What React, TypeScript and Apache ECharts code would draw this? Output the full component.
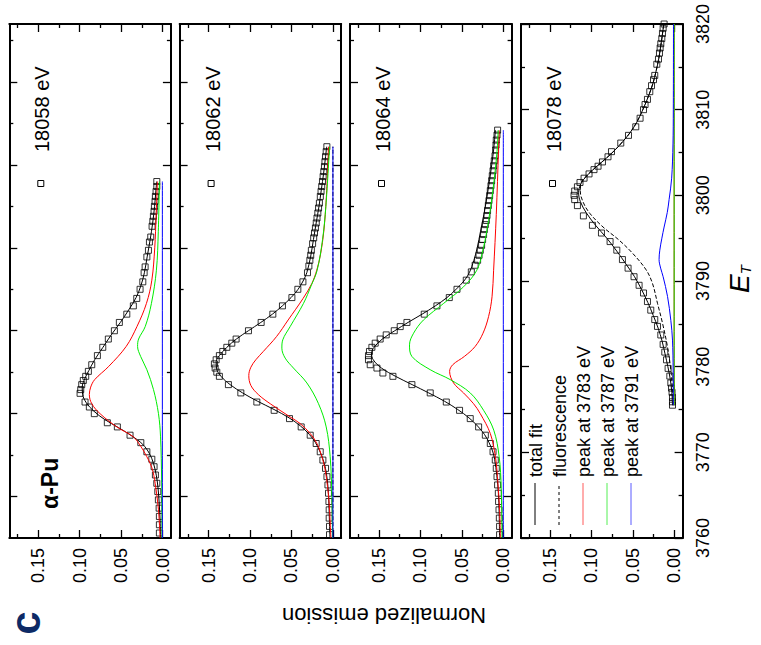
import React, { useEffect, useRef } from 'react';
import * as echarts from 'echarts';

const FONT = '"Liberation Sans", Arial, Helvetica, sans-serif';

// ---------- labels ----------
const incidentEnergies = ['18058 eV', '18062 eV', '18064 eV', '18078 eV'];
const legendNames = ['total fit', 'fluorescence', 'peak at 3783 eV', 'peak at 3787 eV', 'peak at 3791 eV'];
const sampleName = '\u03b1-Pu';
const valueAxisTitle = 'Normalized emission';
const panelLetter = 'c';

// ---------- axis ticks ----------
const emissionRange = [-0.01, 0.185];
const emissionTicks = [0, 0.05, 0.1, 0.15];
const emissionMinorTicks = [0.025, 0.075, 0.125, 0.175];
const energyRangeUpper = [3755, 3817]; // first three panels
const energyRangeLower = [3760, 3820]; // bottom panel (labelled)
const energyTicks = [3760, 3770, 3780, 3790, 3800, 3810, 3820];
const energyMinorTicks = [3765, 3775, 3785, 3795, 3805, 3815];

// ---------- data: [energy (eV), normalized emission] ----------
const p1Data = [
  [3755.6, 0.0039], [3756.6, 0.0039], [3757.6, 0.0039], [3758.6, 0.0042], [3759.6, 0.0051], [3760.6, 0.0058],
  [3761.6, 0.007], [3762.6, 0.0087], [3763.6, 0.0103], [3764.5, 0.013], [3765.4, 0.019], [3766.5, 0.0263],
  [3767.4, 0.0393], [3768.4, 0.0546], [3768.9, 0.0667], [3770.0, 0.0824], [3770.8, 0.0884], [3771.4, 0.0936],
  [3772.45, 0.0996], [3772.9, 0.0988], [3773.5, 0.0976], [3774.0, 0.0957], [3774.5, 0.0928], [3775.1, 0.0896],
  [3775.9, 0.0855], [3777.0, 0.0787], [3778.0, 0.0722], [3779.0, 0.0655], [3780.0, 0.0582], [3781.0, 0.0522],
  [3782.0, 0.0432], [3783.0, 0.0353], [3783.9, 0.0312], [3785.0, 0.0272], [3785.9, 0.0239], [3787.0, 0.0223],
  [3787.7, 0.0211], [3788.9, 0.019], [3789.7, 0.0171], [3790.7, 0.0159], [3791.3, 0.0143], [3792.6, 0.0127],
  [3793.2, 0.0118], [3793.8, 0.0111], [3794.4, 0.0103], [3795.0, 0.0099], [3795.6, 0.0091], [3796.2, 0.0087],
  [3796.8, 0.0079], [3797.4, 0.007], [3798.0, 0.007],
];
const p1Fit = [
  [3755, 0.0025], [3757, 0.003], [3759, 0.004], [3761, 0.0055], [3762.5, 0.0075], [3764, 0.011], [3765.2, 0.016],
  [3766.3, 0.024], [3767.3, 0.037], [3768.3, 0.053], [3769.3, 0.07], [3770.3, 0.083], [3771.3, 0.092],
  [3772.3, 0.0965], [3773.2, 0.097], [3774.2, 0.094], [3775.2, 0.089], [3776.5, 0.082], [3778, 0.072],
  [3779.5, 0.062], [3781, 0.051], [3782.5, 0.041], [3784, 0.032], [3785.5, 0.026], [3787, 0.022], [3789, 0.0185],
  [3791, 0.015], [3793, 0.012], [3795, 0.0097], [3797, 0.008], [3798, 0.0072],
];
const p1Peak3783 = [
  [3755, 0.003], [3758.4, 0.005], [3761.6, 0.009], [3763.5, 0.013], [3764.8, 0.019], [3766, 0.026],
  [3767.2, 0.0353], [3768.4, 0.0553], [3770, 0.0755], [3771.2, 0.0855], [3772.3, 0.0884], [3773.2, 0.0868],
  [3774.1, 0.082], [3775.7, 0.065], [3778.1, 0.044], [3780.5, 0.031], [3783.3, 0.0195], [3786.1, 0.013],
  [3790, 0.0095], [3794, 0.0078], [3798, 0.0063],
];
const p1Peak3787 = [
  [3755, 0.0007], [3762, 0.0012], [3767.2, 0.0025], [3770, 0.005], [3772.9, 0.011], [3775.3, 0.019],
  [3776.9, 0.0265], [3778.1, 0.0302], [3779, 0.029], [3780.5, 0.021], [3783.3, 0.0135], [3787.3, 0.0075],
  [3792, 0.0052], [3798, 0.0039],
];
const p1Peak3791 = [[3755, 0.0003], [3798, 0.0003]];

const p2Data = [
  [3755.4, 0.0041], [3756.4, 0.0041], [3757.4, 0.0045], [3758.4, 0.0045], [3759.4, 0.0048], [3760.4, 0.0053],
  [3761.4, 0.006], [3762.4, 0.0072], [3763.4, 0.0089], [3764.4, 0.0121], [3765.4, 0.0153], [3766.4, 0.0202],
  [3767.4, 0.0274], [3768.4, 0.0383], [3769.4, 0.0524], [3770.4, 0.0709], [3771.4, 0.0918], [3772.5, 0.1111],
  [3773.5, 0.1261], [3774.5, 0.137], [3775.0, 0.1401], [3775.5, 0.1421], [3776.0, 0.143], [3776.5, 0.1409],
  [3777.0, 0.137], [3777.5, 0.1329], [3778.0, 0.128], [3778.5, 0.122], [3779.0, 0.1168], [3780.0, 0.1019],
  [3781.0, 0.0866], [3782.0, 0.0725], [3783.0, 0.0609], [3784.0, 0.0495], [3785.0, 0.0423], [3785.9, 0.0362],
  [3787.0, 0.0307], [3787.8, 0.029], [3788.5, 0.0278], [3789.1, 0.0268], [3789.7, 0.026], [3790.5, 0.0245],
  [3791.2, 0.0232], [3791.8, 0.0222], [3792.4, 0.0211], [3793.0, 0.0201], [3793.6, 0.0192], [3794.2, 0.0182],
  [3794.8, 0.0173], [3795.4, 0.0163], [3796.2, 0.0152], [3796.8, 0.0143], [3797.4, 0.0135], [3798.0, 0.0126],
  [3798.6, 0.0118], [3799.2, 0.011], [3799.8, 0.0102], [3800.4, 0.0096], [3801.0, 0.0089], [3801.6, 0.0081],
  [3802.2, 0.0073],
];
const p2Fit = [
  [3755, 0.0035], [3757, 0.0042], [3759, 0.0048], [3760.5, 0.0055], [3762, 0.0068], [3763.4, 0.009],
  [3764.5, 0.012], [3765.5, 0.016], [3766.5, 0.021], [3767.5, 0.0285], [3768.5, 0.039], [3769.5, 0.053],
  [3770.5, 0.071], [3771.5, 0.091], [3772.5, 0.109], [3773.5, 0.124], [3774.5, 0.135], [3775.5, 0.1405],
  [3776.3, 0.1408], [3777, 0.137], [3778, 0.128], [3779, 0.1165], [3780, 0.102], [3781, 0.087], [3782, 0.073],
  [3783, 0.061], [3784, 0.0505], [3785, 0.042], [3786, 0.036], [3787, 0.0315], [3789, 0.0268], [3791, 0.0235],
  [3793, 0.0202], [3795, 0.0168], [3797, 0.014], [3799, 0.0112], [3801, 0.0089], [3802.2, 0.0075],
];
const p2Fluorescence = [[3755, 0], [3802.2, 0]];
const p2Peak3783 = [
  [3755, 0.0024], [3756.8, 0.0033], [3759.2, 0.0045], [3761.2, 0.0065], [3763.2, 0.0093], [3764.8, 0.0133],
  [3766.4, 0.0193], [3767.6, 0.0274], [3768.8, 0.0395], [3769.6, 0.0516], [3771.2, 0.0757], [3772.3, 0.09],
  [3773.4, 0.099], [3774.6, 0.1015], [3775.6, 0.099], [3776.5, 0.093], [3777.5, 0.084], [3779.3, 0.068],
  [3781.3, 0.054], [3783.9, 0.036], [3785.7, 0.0254], [3787.3, 0.0195], [3789.3, 0.0148], [3792, 0.011],
  [3796, 0.008], [3802.2, 0.0053],
];
const p2Peak3787 = [
  [3755, 0.0005], [3760, 0.0012], [3764.8, 0.0033], [3768.4, 0.0081], [3771.2, 0.0174], [3773.7, 0.0314],
  [3775.5, 0.0476], [3776.7, 0.0576], [3777.9, 0.0616], [3778.9, 0.0605], [3780.5, 0.0516], [3783.3, 0.0355],
  [3785.5, 0.026], [3787.3, 0.019], [3791, 0.0125], [3795, 0.0085], [3802.2, 0.004],
];
const p2Peak3791 = [[3755, 0], [3802.2, 0]];

const p3Data = [
  [3755.4, 0.0045], [3756.4, 0.0045], [3757.4, 0.0048], [3758.4, 0.0052], [3759.4, 0.0057], [3760.4, 0.006],
  [3761.4, 0.0069], [3762.4, 0.0076], [3763.4, 0.0085], [3764.4, 0.0097], [3765.4, 0.0124], [3766.4, 0.0157],
  [3767.4, 0.0217], [3768.4, 0.0298], [3769.4, 0.0399], [3770.4, 0.0528], [3771.4, 0.0688], [3772.5, 0.0882],
  [3773.5, 0.1103], [3774.5, 0.1332], [3774.9, 0.1453], [3775.5, 0.1525], [3775.9, 0.1606], [3776.5, 0.1627],
  [3777.0, 0.1627], [3777.5, 0.1615], [3778.0, 0.1586], [3778.5, 0.1546], [3779.0, 0.1486], [3779.5, 0.1413],
  [3780.0, 0.1316], [3780.5, 0.1244], [3781.0, 0.1163], [3782.0, 0.0954], [3783.0, 0.0801], [3784.0, 0.0652],
  [3785.0, 0.0559], [3786.1, 0.0447], [3787.1, 0.0386], [3787.9, 0.034], [3788.5, 0.031], [3789.1, 0.0293],
  [3789.7, 0.0278], [3790.3, 0.0262], [3791.0, 0.025], [3791.6, 0.0238], [3792.2, 0.0229], [3792.8, 0.0217],
  [3793.3, 0.0205], [3793.9, 0.0197], [3794.5, 0.019], [3795.1, 0.0181], [3795.7, 0.0173], [3796.3, 0.0165],
  [3796.9, 0.0157], [3797.5, 0.0149], [3798.1, 0.0141], [3798.7, 0.0133], [3799.3, 0.0124], [3799.9, 0.0117],
  [3800.5, 0.0109], [3801.1, 0.01], [3801.8, 0.0093], [3802.4, 0.0088], [3803.0, 0.0085], [3803.6, 0.0076],
  [3804.2, 0.0069],
];
const p3Fit = [
  [3755, 0.0045], [3758, 0.005], [3760.5, 0.006], [3762.5, 0.0078], [3764.5, 0.0105], [3765.5, 0.013],
  [3766.5, 0.0172], [3767.5, 0.0228], [3768.5, 0.031], [3769.5, 0.0415], [3770.5, 0.055], [3771.5, 0.071],
  [3772.5, 0.09], [3773.5, 0.11], [3774.5, 0.13], [3775.5, 0.147], [3776.5, 0.157], [3777.3, 0.159],
  [3778, 0.156], [3779, 0.146], [3780, 0.131], [3781, 0.115], [3782, 0.098], [3783, 0.082], [3784, 0.068],
  [3785, 0.057], [3786, 0.0475], [3787, 0.041], [3788.5, 0.0355], [3790, 0.0315], [3792, 0.0275],
  [3794, 0.0235], [3796, 0.02], [3798, 0.0168], [3800, 0.014], [3802, 0.0115], [3804.2, 0.0095],
];
const p3Peak3783 = [
  [3755, 0.0035], [3758.4, 0.0045], [3761.6, 0.0065], [3764.8, 0.0095], [3767.6, 0.0157], [3770, 0.0278],
  [3771.2, 0.0359], [3772.5, 0.048], [3773.7, 0.06], [3775.1, 0.0648], [3775.9, 0.061], [3776.9, 0.047],
  [3778.1, 0.034], [3779.7, 0.0245], [3781.7, 0.0178], [3784.1, 0.0136], [3787.3, 0.0117], [3794, 0.0085],
  [3802, 0.0057], [3804.2, 0.005],
];
const p3Peak3787 = [
  [3755, 0.0016], [3761, 0.0025], [3764.8, 0.005], [3768, 0.0115], [3770.4, 0.0238], [3772.5, 0.0399],
  [3774.1, 0.064], [3775.3, 0.0882], [3776.9, 0.1103], [3778.3, 0.1132], [3779.7, 0.1083], [3781.3, 0.0963],
  [3783.3, 0.072], [3785.3, 0.048], [3787.3, 0.032], [3790, 0.024], [3793.3, 0.0178], [3797, 0.0125],
  [3801.6, 0.0076], [3804.2, 0.0062],
];
const p3Peak3791 = [[3755, 0], [3804.2, 0]];

const p4Data = [
  [3775.5, 0.0022], [3775.9, 0.0022], [3776.4, 0.0022], [3777.0, 0.0027], [3777.5, 0.0034], [3778.1, 0.0042],
  [3778.9, 0.0054], [3779.8, 0.0075], [3780.8, 0.0094], [3781.7, 0.0115], [3782.6, 0.0135], [3783.7, 0.0163],
  [3784.7, 0.0203], [3785.5, 0.0236], [3786.6, 0.0284], [3787.6, 0.0324], [3788.6, 0.0372], [3789.5, 0.0425],
  [3790.5, 0.0486], [3791.5, 0.0558], [3792.5, 0.0626], [3793.6, 0.0694], [3794.6, 0.0775], [3795.6, 0.0879],
  [3796.5, 0.0988], [3797.6, 0.1097], [3798.8, 0.1169], [3799.5, 0.1202], [3800.0, 0.121], [3800.5, 0.1202],
  [3801.0, 0.1169], [3801.5, 0.1138], [3802.0, 0.1089], [3802.5, 0.1029], [3803.0, 0.0969], [3803.4, 0.092],
  [3803.9, 0.0867], [3804.5, 0.08], [3805.1, 0.0758], [3806.1, 0.0646], [3807.0, 0.0553], [3808.0, 0.0465],
  [3809.0, 0.0413], [3810.0, 0.0372], [3810.6, 0.0353], [3811.2, 0.0324], [3812.1, 0.0296], [3812.8, 0.0275],
  [3813.5, 0.0251], [3814.0, 0.0236], [3815.3, 0.0211], [3815.9, 0.0191], [3816.6, 0.0179], [3817.2, 0.0171],
  [3817.7, 0.0163], [3818.3, 0.0151], [3818.9, 0.0143], [3819.5, 0.0135], [3820.0, 0.0123],
];
const p4Fit = [
  [3775.5, 0.0022], [3777, 0.003], [3778.5, 0.0048], [3780, 0.0078], [3781.5, 0.0112], [3783, 0.0148],
  [3784.5, 0.0195], [3786, 0.0255], [3787.5, 0.032], [3789, 0.0395], [3790.5, 0.048], [3792, 0.0585],
  [3793.5, 0.0695], [3795, 0.0815], [3796.5, 0.095], [3798, 0.1065], [3799.3, 0.1135], [3800.3, 0.1155],
  [3801.3, 0.113], [3802.3, 0.1055], [3803.3, 0.0945], [3804.3, 0.0825], [3805.3, 0.0715], [3806.3, 0.062],
  [3807.3, 0.0535], [3808.5, 0.0455], [3810, 0.038], [3811.5, 0.0315], [3813, 0.026], [3814.5, 0.022],
  [3816, 0.0187], [3818, 0.0155], [3820, 0.0127],
];
const p4Fluorescence = [
  [3775.5, 0.0015], [3777, 0.002], [3779.6, 0.0042], [3782.3, 0.0082], [3785.1, 0.0143], [3787.4, 0.0203],
  [3789.7, 0.0263], [3791.3, 0.034], [3793.2, 0.05], [3794.8, 0.067], [3796.3, 0.086], [3797.9, 0.102],
  [3799.2, 0.11], [3800.5, 0.1135], [3801.3, 0.113], [3802.3, 0.1055], [3803.3, 0.0945], [3804.3, 0.0825],
  [3805.3, 0.0715], [3806.3, 0.062], [3807.3, 0.0535], [3808.5, 0.0455], [3810, 0.038], [3811.5, 0.0315],
  [3813, 0.026], [3814.5, 0.022], [3816, 0.0187], [3818, 0.0155], [3820, 0.0127],
];
const p4Peak3783 = [[3775.5, 0.0002], [3820, 0.0002]];
const p4Peak3787 = [[3775.5, 0.0002], [3820, 0.0002]];
const p4Peak3791 = [
  [3775.5, 0.0012], [3779.6, 0.0014], [3783.1, 0.0022], [3785.4, 0.0042], [3788.2, 0.0082], [3790.5, 0.0135],
  [3791.5, 0.0165], [3792.5, 0.0184], [3793.6, 0.0175], [3795, 0.015], [3796.3, 0.0123], [3798, 0.0085],
  [3799.5, 0.0063], [3802, 0.0032], [3806, 0.0016], [3810, 0.0012], [3820, 0.001],
];

// ---------- layout ----------
const PANEL_LEFT = [9.3, 179.6, 350, 521];
const PANEL_WIDTH = 161.6;
const PLOT_TOP = 24;
const PLOT_HEIGHT = 514;

const panels = [
  { data: p1Data, fit: p1Fit, fluor: null, p3783: p1Peak3783, p3787: p1Peak3787, p3791: p1Peak3791, range: energyRangeUpper },
  { data: p2Data, fit: p2Fit, fluor: p2Fluorescence, p3783: p2Peak3783, p3787: p2Peak3787, p3791: p2Peak3791, range: energyRangeUpper },
  { data: p3Data, fit: p3Fit, fluor: null, p3783: p3Peak3783, p3787: p3Peak3787, p3791: p3Peak3791, range: energyRangeUpper },
  { data: p4Data, fit: p4Fit, fluor: p4Fluorescence, p3783: p4Peak3783, p3787: p4Peak3787, p3791: p4Peak3791, range: energyRangeLower },
];

const COLORS = { fit: '#000000', fluor: '#000000', p3783: '#ff0000', p3787: '#00ee00', p3791: '#0000ff' };

// emission goes on the horizontal axis, energy on the vertical one
const toXY = (pts: number[][]) => pts.map(([e, v]) => [v, e]);

function emissionAxis(gridIndex: number, position: string, ticks: number[], len: number, line: boolean, labels: boolean) {
  return {
    type: 'value', gridIndex, position, min: emissionRange[0], max: emissionRange[1], inverse: true,
    axisLine: { show: line, onZero: false, lineStyle: { color: '#000', width: 2 } },
    axisTick: { show: true, inside: true, length: len, customValues: ticks, lineStyle: { color: '#000', width: 1.3 } },
    axisLabel: labels
      ? { show: true, rotate: 90, customValues: emissionTicks, formatter: (v: number) => v.toFixed(2), fontSize: 18, fontFamily: FONT, color: '#000', margin: 10 }
      : { show: false },
    splitLine: { show: false },
  };
}

function energyAxis(gridIndex: number, position: string, range: number[], ticks: number[], len: number, line: boolean, labels: boolean) {
  return {
    type: 'value', gridIndex, position, min: range[0], max: range[1],
    axisLine: { show: line, onZero: false, lineStyle: { color: '#000', width: 2 } },
    axisTick: { show: true, inside: true, length: len, customValues: ticks, lineStyle: { color: '#000', width: 1.3 } },
    axisLabel: labels
      ? { show: true, rotate: 90, customValues: energyTicks, formatter: (v: number) => String(v), fontSize: 18, fontFamily: FONT, color: '#000', margin: 11 }
      : { show: false },
    splitLine: { show: false },
  };
}

function buildOption() {
  const grid: any[] = [];
  const xAxis: any[] = [];
  const yAxis: any[] = [];
  const series: any[] = [];
  const graphic: any[] = [];

  panels.forEach((p, i) => {
    const left = PANEL_LEFT[i];
    grid.push({ left, top: PLOT_TOP, width: PANEL_WIDTH, height: PLOT_HEIGHT });
    xAxis.push(emissionAxis(i, 'bottom', emissionTicks, 8, true, true));
    xAxis.push(emissionAxis(i, 'bottom', emissionMinorTicks, 4, false, false));
    xAxis.push(emissionAxis(i, 'top', emissionTicks, 8, true, false));
    xAxis.push(emissionAxis(i, 'top', emissionMinorTicks, 4, false, false));
    const lastPanel = i === panels.length - 1;
    yAxis.push(energyAxis(i, 'right', p.range, energyTicks, 8, true, lastPanel));
    yAxis.push(energyAxis(i, 'right', p.range, energyMinorTicks, 4, false, false));
    yAxis.push(energyAxis(i, 'left', p.range, energyTicks, 8, true, false));
    yAxis.push(energyAxis(i, 'left', p.range, energyMinorTicks, 4, false, false));

    const axes = { xAxisIndex: i * 4, yAxisIndex: i * 4 };
    const lineSeries = (name: string, pts: number[][], color: string, type = 'solid') => ({
      name, type: 'line', ...axes, data: toXY(pts), showSymbol: false, smooth: 0.35, clip: true,
      lineStyle: { color, width: 1, type }, silent: true,
    });
    series.push(lineSeries(legendNames[0], p.fit, COLORS.fit));
    if (p.fluor) series.push(lineSeries(legendNames[1], p.fluor, COLORS.fluor, 'dashed'));
    series.push(lineSeries(legendNames[2], p.p3783, COLORS.p3783));
    series.push(lineSeries(legendNames[3], p.p3787, COLORS.p3787));
    series.push(lineSeries(legendNames[4], p.p3791, COLORS.p3791));
    series.push({
      name: incidentEnergies[i], type: 'scatter', ...axes, data: toXY(p.data), symbol: 'rect', symbolSize: 6,
      itemStyle: { color: 'rgba(0,0,0,0)', borderColor: '#000', borderWidth: 1 }, silent: true,
    });

    // incident-energy key: open square plus rotated label
    graphic.push({
      type: 'rect', shape: { x: left + 28.5, y: 180.5, width: 6, height: 6 },
      style: { fill: 'none', stroke: '#000', lineWidth: 1 },
    });
    graphic.push({
      type: 'text', x: left + 33, y: 152, rotation: Math.PI / 2,
      style: { text: incidentEnergies[i], fontSize: 20, fontFamily: FONT, fill: '#000', align: 'left', verticalAlign: 'middle' },
    });
  });

  // sample name in the first panel
  graphic.push({
    type: 'text', x: PANEL_LEFT[0] + 41, y: 509, rotation: Math.PI / 2,
    style: { text: sampleName, fontSize: 23, fontWeight: 'bold', fontFamily: FONT, fill: '#000', align: 'left', verticalAlign: 'middle' },
  });

  // legend of the last panel
  const legendStyles = [
    { stroke: '#000', lineDash: null },
    { stroke: '#000', lineDash: [3, 3] },
    { stroke: '#ff5a5a', lineDash: null },
    { stroke: '#55ee55', lineDash: null },
    { stroke: '#5a5aff', lineDash: null },
  ];
  legendNames.forEach((name, k) => {
    const lx = PANEL_LEFT[3] + 14 + k * 24;
    graphic.push({
      type: 'line', shape: { x1: lx, y1: 525, x2: lx, y2: 483 },
      style: { stroke: legendStyles[k].stroke, lineWidth: 1, lineDash: legendStyles[k].lineDash },
    });
    graphic.push({
      type: 'text', x: lx + 1, y: 477, rotation: Math.PI / 2,
      style: { text: name, fontSize: 18, fontFamily: FONT, fill: '#000', align: 'left', verticalAlign: 'middle' },
    });
  });

  // axis titles
  graphic.push({
    type: 'text', x: 384, y: 615, rotation: Math.PI,
    style: { text: valueAxisTitle, fontSize: 22, fontFamily: FONT, fill: '#000', align: 'center', verticalAlign: 'middle' },
  });
  graphic.push({
    type: 'text', x: 739, y: 279, rotation: Math.PI / 2,
    style: {
      text: '{e|E}{t|T}', align: 'center', verticalAlign: 'middle',
      rich: {
        e: { fontSize: 28, fontStyle: 'italic', fontFamily: FONT, fill: '#000', verticalAlign: 'bottom' },
        t: { fontSize: 15, fontStyle: 'italic', fontFamily: FONT, fill: '#000', verticalAlign: 'bottom', padding: [12, 0, 0, 0] },
      },
    },
  });
  graphic.push({
    type: 'text', x: 25, y: 623, rotation: Math.PI / 2,
    style: { text: panelLetter, fontSize: 42, fontWeight: 'bold', fontFamily: FONT, fill: '#0d2a66', align: 'center', verticalAlign: 'middle' },
  });

  return { animation: false, backgroundColor: '#ffffff', grid, xAxis, yAxis, series, graphic };
}

export default function App() {
  const ref = useRef<HTMLDivElement>(null);
  useEffect(() => {
    if (!ref.current) return;
    const chart = echarts.init(ref.current, undefined, { renderer: 'svg' });
    chart.setOption(buildOption() as any);
    return () => chart.dispose();
  }, []);
  return <div ref={ref} style={{ position: 'absolute', left: 0, top: 0, width: 761, height: 645, background: '#fff' }} />;
}
